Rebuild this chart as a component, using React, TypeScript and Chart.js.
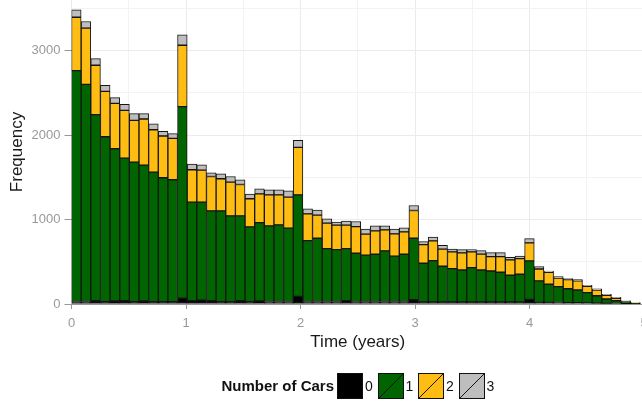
import React, { useEffect, useRef } from 'react';
import { Chart, registerables } from 'chart.js';

Chart.register(...registerables);

const FONT = '"Liberation Sans", Arial, Helvetica, sans-serif';

// Histogram bin width (years); bars are drawn at bin centres
const BIN_WIDTH = 0.0842;

// Counts per bin, by number of cars
const cars0 = [
  30, 30, 38, 27, 35, 38, 27, 35, 27, 27, 27, 68, 38, 45, 38, 27, 27, 38, 27, 35,
  30, 30, 30, 90, 30, 30, 30, 30, 40, 30, 30, 30, 30, 30, 30, 50, 25, 25, 25, 25,
  25, 25, 25, 25, 25, 25, 25, 55, 20, 20, 18, 15, 15, 12, 10, 8, 6, 4, 2,
];
const cars1 = [
  2734, 2571, 2204, 1954, 1803, 1690, 1654, 1610, 1535, 1468, 1444, 2269, 1168, 1161, 1065, 1076, 1017, 1006, 886, 929,
  895, 907, 868, 1203, 721, 749, 626, 614, 616, 571, 548, 559, 599, 536, 559, 729, 458, 489, 422, 394,
  378, 406, 378, 366, 351, 315, 327, 455, 253, 214, 187, 166, 151, 122, 88, 51, 33, 26, 10,
];
const cars2 = [
  632, 665, 585, 537, 538, 565, 493, 546, 502, 494, 490, 727, 384, 380, 407, 380, 400, 371, 333, 341,
  368, 356, 368, 561, 317, 273, 301, 290, 278, 316, 249, 277, 249, 264, 265, 328, 220, 233, 202, 198,
  202, 186, 187, 170, 185, 182, 185, 214, 142, 142, 103, 107, 107, 76, 68, 44, 29, 6, 2,
];
const cars3 = [
  88, 79, 79, 72, 68, 71, 80, 63, 71, 55, 56, 123, 67, 63, 44, 59, 66, 56, 55, 59,
  59, 59, 74, 83, 59, 59, 51, 35, 47, 60, 59, 59, 47, 56, 48, 59, 36, 44, 47, 32,
  39, 27, 42, 48, 48, 32, 29, 51, 28, 15, 16, 12, 15, 12, 15, 12, 11, 3, 1,
];

const seriesLabels = ['0', '1', '2', '3'];
const seriesColors = ['#000000', '#006400', '#FFBC12', '#BEBEBE'];

// Labelled ticks and the (unlabelled) minor grid positions
const xTickLabels = ['0', '1', '2', '3', '4', '5'];
const xGridValues = [0, 0.5, 1, 1.5, 2, 2.5, 3, 3.5, 4, 4.5, 5];
const yTickLabels = ['0', '1000', '2000', '3000'];
const yGridValues = [0, 500, 1000, 1500, 2000, 2500, 3000, 3500];

const legendTitle = 'Number of Cars';

function KeyBox({ color, diag }: { color: string; diag: boolean }) {
  return (
    <svg width={26} height={26} style={{ display: 'block' }}>
      <rect x={0.5} y={0.5} width={25} height={25} fill={color} stroke="#111" strokeWidth={1} />
      {diag ? <line x1={1} y1={25} x2={25} y2={1} stroke="#111" strokeWidth={1} /> : null}
    </svg>
  );
}

const isLabelled = (labels: string[], v: any) => labels.includes(String(v));

export default function App() {
  const ref = useRef<HTMLCanvasElement>(null);

  useEffect(() => {
    const canvas = ref.current;
    if (!canvas) return;
    const all = [cars0, cars1, cars2, cars3];
    const datasets = all.map((vals, k) => ({
      label: seriesLabels[k],
      data: vals.map((y, i) => ({ x: (i + 0.5) * BIN_WIDTH, y })),
      backgroundColor: seriesColors[k],
      borderColor: '#151515',
      borderWidth: 1,
      borderSkipped: false as const,
      barPercentage: 1,
      categoryPercentage: 1,
    }));

    const chart = new Chart(canvas, {
      type: 'bar',
      data: { datasets },
      options: {
        animation: false,
        responsive: false,
        maintainAspectRatio: false,
        layout: { padding: { left: 0, top: 0, right: 16, bottom: 43 } },
        plugins: {
          legend: { display: false },
          tooltip: { enabled: false },
        },
        scales: {
          x: {
            type: 'linear',
            stacked: true,
            min: 0,
            max: 5,
            offset: false,
            afterBuildTicks: (s: any) => {
              s.ticks = xGridValues.map((value) => ({ value }));
            },
            afterFit: (s: any) => {
              s.height = 56;
              s.paddingLeft = 0;
              s.paddingRight = 0;
            },
            ticks: {
              autoSkip: false,
              maxRotation: 0,
              minRotation: 0,
              padding: 7,
              color: '#999999',
              font: { family: FONT, size: 13 },
              callback: (v: any) => (isLabelled(xTickLabels, v) ? String(v) : ''),
            },
            grid: {
              offset: false,
              color: (ctx: any) => (ctx.tick && isLabelled(xTickLabels, ctx.tick.value) ? '#ebebeb' : '#f3f3f3'),
              lineWidth: 1,
              drawTicks: true,
              tickLength: 5,
              tickColor: (ctx: any) =>
                ctx.tick && isLabelled(xTickLabels, ctx.tick.value) ? '#999999' : 'rgba(0,0,0,0)',
            },
            border: { display: true, color: '#999999', width: 1 },
            title: {
              display: true,
              text: 'Time (years)',
              color: '#1a1a1a',
              font: { family: FONT, size: 17 },
              padding: { top: 0, bottom: 7 },
            },
          },
          y: {
            type: 'linear',
            stacked: true,
            min: 0,
            max: 3600,
            afterBuildTicks: (s: any) => {
              s.ticks = yGridValues.map((value) => ({ value }));
            },
            afterFit: (s: any) => {
              s.width = 71.5;
              s.paddingTop = 0;
              s.paddingBottom = 0;
            },
            ticks: {
              autoSkip: false,
              padding: 4,
              color: '#999999',
              font: { family: FONT, size: 13 },
              callback: (v: any) => (isLabelled(yTickLabels, v) ? String(v) : ''),
            },
            grid: {
              color: (ctx: any) => (ctx.tick && isLabelled(yTickLabels, ctx.tick.value) ? '#ebebeb' : '#f3f3f3'),
              lineWidth: 1,
              drawTicks: true,
              tickLength: 7,
              tickColor: (ctx: any) =>
                ctx.tick && isLabelled(yTickLabels, ctx.tick.value) ? '#999999' : 'rgba(0,0,0,0)',
            },
            border: { display: false },
            title: {
              display: true,
              text: 'Frequency',
              color: '#1a1a1a',
              font: { family: FONT, size: 17 },
              padding: { top: 7, bottom: 0 },
            },
          },
        },
      },
    });
    return () => chart.destroy();
  }, []);

  const boxLefts = [337, 377.5, 418, 458.5];
  const labelLefts = [365, 405.5, 446, 486.5];

  return (
    <div
      style={{
        position: 'fixed',
        left: 0,
        top: 0,
        width: 642,
        height: 403,
        overflow: 'hidden',
        background: '#ffffff',
        fontFamily: FONT,
      }}
    >
      <canvas
        ref={ref}
        width={660}
        height={403}
        style={{ position: 'absolute', left: 0, top: 0, width: 660, height: 403 }}
      />
      <div
        style={{
          position: 'absolute',
          left: 221.5,
          top: 373,
          height: 26,
          lineHeight: '26px',
          fontSize: 15,
          fontWeight: 'bold',
          color: '#111',
          whiteSpace: 'nowrap',
        }}
      >
        {legendTitle}
      </div>
      {seriesLabels.map((lab, k) => (
        <React.Fragment key={lab}>
          <div style={{ position: 'absolute', left: boxLefts[k], top: 373 }}>
            <KeyBox color={seriesColors[k]} diag={k > 0} />
          </div>
          <div
            style={{
              position: 'absolute',
              left: labelLefts[k],
              top: 373,
              height: 26,
              lineHeight: '26px',
              fontSize: 14,
              color: '#111',
            }}
          >
            {lab}
          </div>
        </React.Fragment>
      ))}
    </div>
  );
}
